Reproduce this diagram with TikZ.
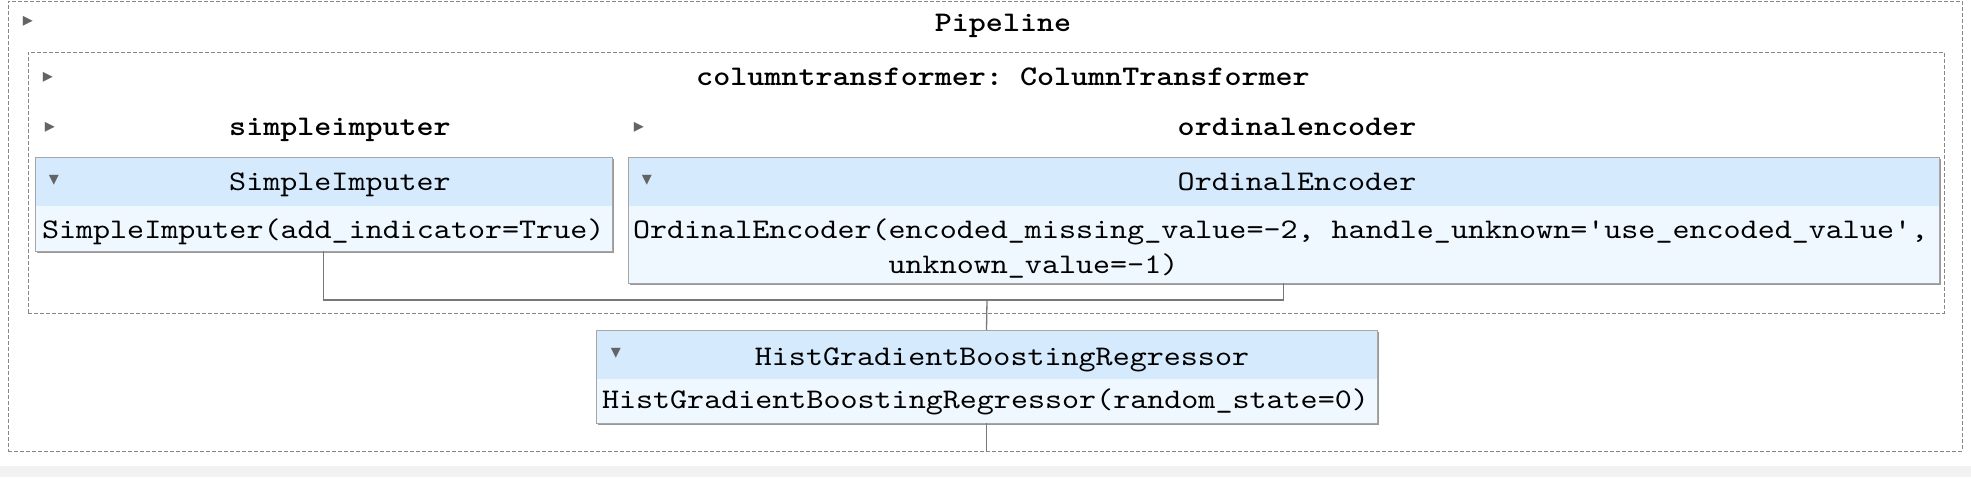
\documentclass[tikz,border=0pt]{standalone}
\usepackage{fontspec}
\setmonofont{lmmono10-regular.otf}[FakeStretch=1.143, BoldFont=lmmonolt10-bold.otf, BoldFeatures={FakeStretch=1.143}]
\newfontfamily\symfont{DejaVu Sans}
\usetikzlibrary{shadows}
\definecolor{hdr}{RGB}{214,234,253}
\definecolor{bdy}{RGB}{240,248,255}
\definecolor{framec}{RGB}{135,135,135}
\definecolor{connc}{RGB}{120,120,120}
\definecolor{tric}{RGB}{100,100,100}
\definecolor{bandc}{RGB}{242,242,242}
\begin{document}
\begin{tikzpicture}[x=1pt,y=-1pt,
  every node/.style={inner sep=0pt, outer sep=0pt},
  txt/.style={font=\ttfamily\fontsize{28.4}{35}\selectfont, text=black},
  boldtxt/.style={font=\ttfamily\bfseries\fontsize{28.4}{35}\selectfont, text=black},
  tri/.style={font=\symfont\fontsize{20}{20}\selectfont, text=tric},
  dashbox/.style={draw=framec, line width=1pt, dash pattern=on 4pt off 2pt},
  estbox/.style={fill=bdy, draw=black!35, line width=1pt,
    drop shadow={shadow xshift=1.5pt, shadow yshift=-1.5pt, fill=black!50, opacity=0.8}},
  conn/.style={draw=connc, line width=1.3pt},
]
\useasboundingbox (0,0) rectangle (1971,477);
\fill[white] (0,0) rectangle (1971,477);
\fill[bandc] (0,466) rectangle (1971,477);

% outer containers
\node[dashbox, minimum width=1954pt, minimum height=450pt] (outer) at (985,226) {};
\node[dashbox, minimum width=1916pt, minimum height=261pt] (inner) at (986,182.5) {};

% titles
\node[tri] (t0) at (28,21) {▸};
\node[boldtxt, anchor=base] (pl) at (1003,31) {Pipeline};
\node[tri] (t1) at (48,77) {▸};
\node[boldtxt, anchor=base] (ct) at (1003,85) {columntransformer: ColumnTransformer};
\node[tri] (t2) at (50,127) {▸};
\node[boldtxt, anchor=base] (sn) at (340,135) {simpleimputer};
\node[tri] (t3) at (639,127) {▸};
\node[boldtxt, anchor=base] (on) at (1297,135) {ordinalencoder};

% estimator boxes
\node[estbox, minimum width=577pt, minimum height=94pt] (si) at (323.5,204) {};
\node[estbox, minimum width=1311pt, minimum height=126pt] (oe) at (1283.5,220) {};
\node[estbox, minimum width=781pt, minimum height=93pt] (hg) at (986.5,376.5) {};
\foreach \b in {si,oe,hg}{
  \fill[hdr] ([xshift=0.5pt,yshift=-0.5pt]\b.north west) rectangle ([xshift=-0.5pt,yshift=-49pt]\b.north east);
  \draw[black!35, line width=1pt] (\b.south west) rectangle (\b.north east);
}

% headers
\node[tri] (d1) at (54,180) {▾};
\node[txt, anchor=base] (sih) at (340,190) {SimpleImputer};
\node[tri] (d2) at (647,180) {▾};
\node[txt, anchor=base] (oeh) at (1297,190) {OrdinalEncoder};
\node[tri] (d3) at (616,353) {▾};
\node[txt, anchor=base] (hgh) at (1002,365) {HistGradientBoostingRegressor};

% bodies
\node[txt, anchor=base west] (sib) at (42,238) {SimpleImputer(add\_indicator=True)};
\node[txt, anchor=base west] (oeb1) at (633,238) {OrdinalEncoder(encoded\_missing\_value=-2, handle\_unknown='use\_encoded\_value',};
\node[txt, anchor=base west] (oeb2) at (633,273) {\phantom{OrdinalEncoder(}unknown\_value=-1)};
\node[txt, anchor=base west] (hgb) at (602,408) {HistGradientBoostingRegressor(random\_state=0)};

% connectors
\coordinate (j) at (987,300);
\draw[conn] (si.south) -- (si.south |- j) -- (oe.south |- j) -- (oe.south);
\draw[conn] (j) -- (hg.north);
\draw[conn] (hg.south) -- (hg.south |- outer.south);
\end{tikzpicture}
\end{document}
